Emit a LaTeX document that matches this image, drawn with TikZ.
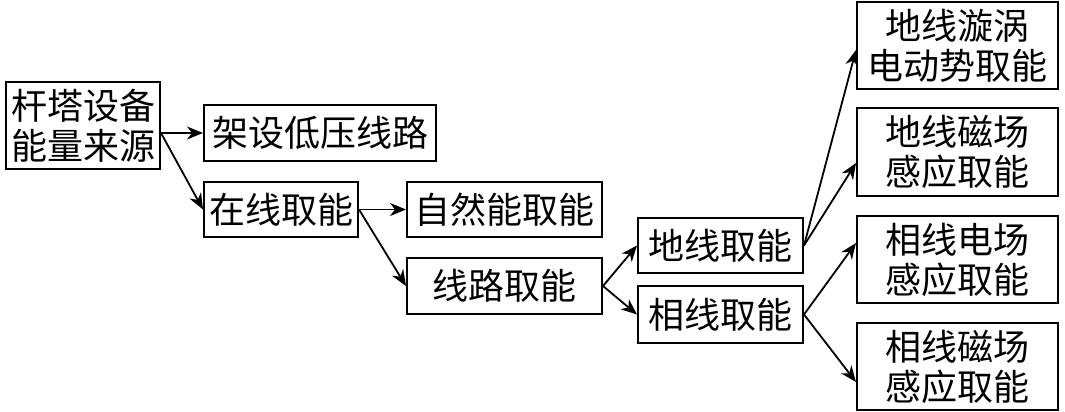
\documentclass[tikz,border=0pt]{standalone}
\usepackage{fontspec}
\usepackage{tikz}
\usetikzlibrary{arrows.meta}
\newfontfamily\cjk{Noto Sans CJK SC}
\tikzset{
  box/.style={draw,line width=1pt,inner sep=0pt,align=center,
    font=\cjk\fontsize{18}{20}\selectfont},
  link/.style={-{Stealth[length=8pt,width=6.5pt,inset=2.5pt]},line width=0.9pt}
}

\begin{document}
\begin{tikzpicture}[x=0.5pt,y=-0.5pt]
      \useasboundingbox (0,0) rectangle (1065,412);
      \node [box,minimum width=77pt,minimum height=43.5pt] (1) at (83,125.5) {杆塔设备\\能量来源};
      \node [box,minimum width=116pt,minimum height=28pt] (2) at (320,133) {架设低压线路};
      \node [box,minimum width=77pt,minimum height=27.5pt] (3) at (281,209.5) {在线取能};
      \node [box,minimum width=97.5pt,minimum height=27.5pt] (4) at (504.5,209.5) {自然能取能};
      \node [box,minimum width=97.5pt,minimum height=28pt] (5) at (504.5,286) {线路取能};
      \node [box,minimum width=82.5pt,minimum height=27.5pt] (6) at (720.5,245.5) {地线取能};
      \node [box,minimum width=82.5pt,minimum height=28.5pt] (7) at (720.5,314.5) {相线取能};
      \node [box,minimum width=100.5pt,minimum height=43.5pt] (8) at (957.5,45.5) {地线漩涡\\电动势取能};
      \node [box,minimum width=100.5pt,minimum height=44pt] (9) at (957.5,152) {地线磁场\\感应取能};
      \node [box,minimum width=100.5pt,minimum height=43.5pt] (10) at (957.5,259.5) {相线电场\\感应取能};
      \node [box,minimum width=100.5pt,minimum height=43.5pt] (11) at (957.5,366.5) {相线磁场\\感应取能};

      \draw[link] ([yshift=-3.75pt]1.east) -- (2.west);
      \draw[link] ([yshift=-3.75pt]1.east) -- (3.west);
      \draw[link] (3.east) -- (4.west);
      \draw[link] (3.east) -- (5.west);
      \draw[link] (5.east) -- (6.west);
      \draw[link] (5.east) -- (7.west);
      \draw[link] (6.east) -- ([yshift=-2.25pt]8.west);
      \draw[link] (6.east) -- ([yshift=-5.5pt]9.west);
      \draw[link] (7.east) -- ([yshift=8.25pt]10.west);
      \draw[link] (7.east) -- ([yshift=-7.75pt]11.west);
    \end{tikzpicture}
\end{document}
